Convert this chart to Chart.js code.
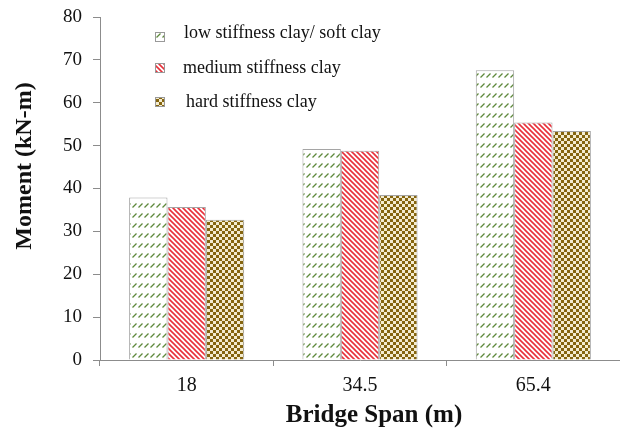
<!DOCTYPE html>
<html>
<head>
<meta charset="utf-8">
<script src="https://cdn.jsdelivr.net/npm/chart.js@4"></script>
<style>
  html, body { margin: 0; padding: 0; background: #fff; }
  #wrap { width: 620px; height: 434px; }
</style>
</head>
<body>
<div id="wrap"><canvas id="c" width="620" height="434"></canvas></div>
<script>
// Bridge span categories and bending moment for each soil type
const spans = ['18', '34.5', '65.4'];
const lowStiffness = [37.9, 49.2, 67.6];
const mediumStiffness = [35.7, 48.8, 55.4];
const hardStiffness = [32.7, 38.5, 53.4];
const seriesNames = ['low stiffness clay/ soft clay', 'medium stiffness clay', 'hard stiffness clay'];
const yTicks = [0, 10, 20, 30, 40, 50, 60, 70, 80];
const xTitle = 'Bridge Span (m)';
const yTitle = 'Moment (kN-m)';

const FONT = '"Liberation Serif", "Times New Roman", serif';

function makeTile(w, h, draw) {
  const t = document.createElement('canvas');
  t.width = w; t.height = h;
  const g = t.getContext('2d');
  g.fillStyle = '#fff';
  g.fillRect(0, 0, w, h);
  draw(g);
  return document.getElementById('c').getContext('2d').createPattern(t, 'repeat');
}

// small rising green dashes
const greenDash = makeTile(6, 10, g => {
  g.strokeStyle = '#5f8a3c';
  g.lineWidth = 1.2;
  g.beginPath();
  g.moveTo(0.5, 7.5);
  g.lineTo(4.5, 3.5);
  g.stroke();
});

// descending red stripes
const redStripe = makeTile(5, 5, g => {
  g.strokeStyle = '#e8303a';
  g.lineWidth = 1.6;
  g.beginPath();
  g.moveTo(-1, -1); g.lineTo(6, 6);
  g.moveTo(-1, 4); g.lineTo(1, 6);
  g.moveTo(4, -1); g.lineTo(6, 1);
  g.stroke();
});

// brown checkerboard
const brownCheck = makeTile(6, 6, g => {
  g.fillStyle = '#85650f';
  g.fillRect(0, 0, 6, 6);
  g.fillStyle = '#f4ecd0';
  g.fillRect(0, 0, 3, 3);
  g.fillRect(3, 3, 3, 3);
});

const fills = [greenDash, redStripe, brownCheck];
const values = [lowStiffness, mediumStiffness, hardStiffness];

// legend inside the plot area (upper left) and the two axis titles
const annotations = {
  id: 'annotations',
  afterDraw(chart) {
    const ctx = chart.ctx;
    const rows = [{ box: 37, text: 33, x: 184 }, { box: 68, text: 68, x: 183 }, { box: 102, text: 102, x: 186 }];
    ctx.save();
    ctx.font = '18px ' + FONT;
    ctx.textBaseline = 'middle';
    chart.data.datasets.forEach((ds, i) => {
      const r = rows[i];
      ctx.fillStyle = ds.backgroundColor;
      ctx.fillRect(155, r.box - 5, 10, 10);
      ctx.strokeStyle = '#999';
      ctx.lineWidth = 1;
      ctx.strokeRect(155.5, r.box - 4.5, 9, 9);
      ctx.fillStyle = '#111';
      ctx.textAlign = 'left';
      ctx.fillText(ds.label, r.x, r.text);
    });

    ctx.fillStyle = '#111';
    ctx.textAlign = 'center';
    ctx.font = 'bold 25px ' + FONT;
    ctx.fillText(xTitle, 374, 416);

    ctx.font = 'bold 24px ' + FONT;
    ctx.translate(25, 166);
    ctx.rotate(-Math.PI / 2);
    ctx.fillText(yTitle, 0, 0);
    ctx.restore();
  }
};

new Chart(document.getElementById('c'), {
  type: 'bar',
  data: {
    labels: spans,
    datasets: seriesNames.map((name, i) => ({
      label: name,
      data: values[i],
      backgroundColor: fills[i],
      borderColor: '#a5a5a5',
      borderWidth: 1,
      categoryPercentage: 0.664,
      barPercentage: 1.0
    }))
  },
  options: {
    responsive: false,
    animation: false,
    devicePixelRatio: 1,
    layout: { padding: { top: 17, right: 0, left: 0, bottom: 0 } },
    plugins: {
      legend: { display: false },
      tooltip: { enabled: false }
    },
    scales: {
      x: {
        grid: {
          display: true,
          drawOnChartArea: false,
          drawTicks: true,
          tickLength: 6,
          color: '#8c8c8c',
          offset: true
        },
        border: { display: true, color: '#8c8c8c', width: 1 },
        ticks: { color: '#111', font: { family: FONT, size: 20 }, padding: 8 },
        afterFit(s) { s.height = 74; s.paddingLeft = 0; s.paddingRight = 0; }
      },
      y: {
        min: 0,
        max: 80,
        afterBuildTicks(s) { s.ticks = yTicks.map(v => ({ value: v })); },
        grid: {
          display: true,
          drawOnChartArea: false,
          drawTicks: true,
          tickLength: 7,
          color: '#8c8c8c'
        },
        border: { display: true, color: '#8c8c8c', width: 1 },
        ticks: { color: '#111', font: { family: FONT, size: 19 }, padding: 11 },
        afterFit(s) { s.width = 100; s.paddingTop = 0; s.paddingBottom = 0; }
      }
    }
  },
  plugins: [annotations]
});
</script>
</body>
</html>
